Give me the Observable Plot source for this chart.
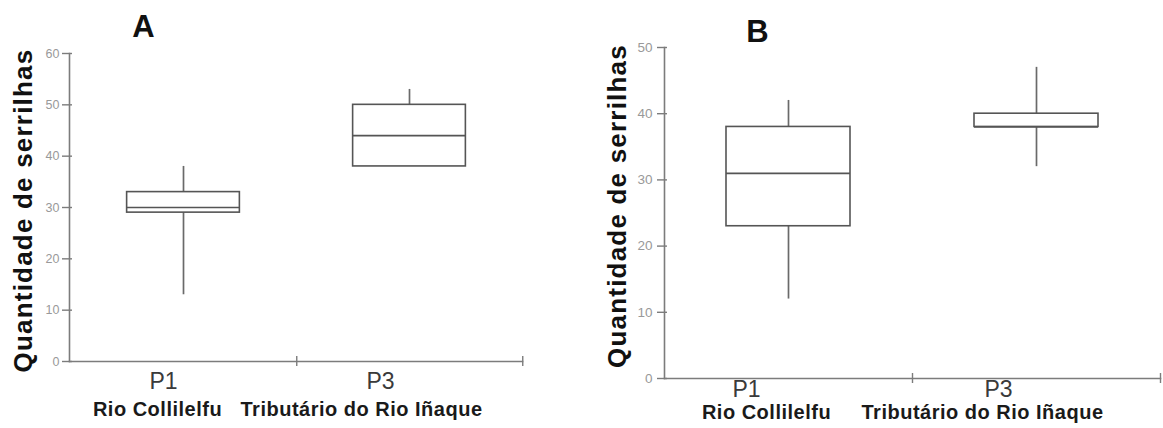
<!DOCTYPE html>
<html>
<head>
<meta charset="utf-8">
<script src="https://cdn.jsdelivr.net/npm/d3@7"></script>
<script src="https://cdn.jsdelivr.net/npm/@observablehq/plot@0.6"></script>
<style>
  body { margin: 0; background: #fff; }
  #wrap { display: flex; width: 1163px; height: 428px; }
  #wrap svg { display: block; }
</style>
</head>
<body>
<div id="wrap"></div>
<script>
// Sampling sites and their stream names
const sites = ["P1", "P3"];
const siteNames = ["Rio Collilelfu", "Tributário do Rio Iñaque"];
const yLabel = "Quantidade de serrilhas";

// Panel A: five-number summaries per site
const minA = [13, 38];
const q1A = [29, 38];
const medA = [30, 44];
const q3A = [33, 50];
const maxA = [38, 53];
const ticksA = [0, 10, 20, 30, 40, 50, 60];

// Panel B: five-number summaries per site
const minB = [12, 32];
const q1B = [23, 38];
const medB = [31, 38];
const q3B = [38, 40];
const maxB = [42, 47];
const ticksB = [0, 10, 20, 30, 40, 50];

const rowsOf = (mn, q1, md, q3, mx) =>
  sites.map((site, i) => ({site, min: mn[i], q1: q1[i], median: md[i], q3: q3[i], max: mx[i]}));

const FONT = "'Liberation Sans', Arial, Helvetica, sans-serif";
const AXIS = "#7c7c7c";
const BOX = "#555";

function panel(o) {
  const H = 428;
  const frameW = o.width - o.ml - o.mr;
  const frameH = H - o.mt - o.mb;
  const bw = frameW / sites.length;
  const inset = bw * 0.25;
  const rows = rowsOf(...o.stats);

  const siteLabels = sites.flatMap((s, i) => [
    Plot.text([s], {
      x: d => d, text: d => d, frameAnchor: "bottom",
      dx: o.codeDx[i], dy: o.codeDy, fontSize: o.codeSize, fill: "#3a3a3a"
    }),
    Plot.text([s], {
      x: d => d, text: () => siteNames[i], frameAnchor: "bottom",
      dx: o.nameDx[i], dy: o.nameDy, fontSize: o.nameSize, fontWeight: "bold", fill: "#1a1a1a"
    })
  ]);

  const svg = Plot.plot({
    width: o.width,
    height: H,
    marginLeft: o.ml,
    marginRight: o.mr,
    marginTop: o.mt,
    marginBottom: o.mb,
    style: {fontFamily: FONT, background: "white", overflow: "visible"},
    x: {type: "band", domain: sites, padding: 0, axis: null},
    y: {domain: [0, o.yMax]},
    marks: [
      // axis lines
      Plot.frame({anchor: "left", stroke: AXIS, strokeWidth: 1.6}),
      Plot.frame({anchor: "bottom", stroke: AXIS, strokeWidth: 1.6}),
      // y ticks crossing the axis line
      Plot.ruleY(o.ticks, {y: d => d, insetLeft: -o.tickLeft, insetRight: frameW - o.tickRight, stroke: AXIS, strokeWidth: 1.4}),
      Plot.axisY({ticks: o.ticks, tickSize: 0, tickPadding: o.tickPad, fontSize: o.tickSize, color: "#999"}),
      // x ticks at the category boundaries
      Plot.ruleX(sites, {x: d => d, dx: bw / 2, insetTop: frameH - 5, insetBottom: -5, stroke: AXIS, strokeWidth: 1.4}),
      // whiskers
      Plot.ruleX(rows, {x: "site", y1: "min", y2: "q1", stroke: "#6a6a6a", strokeWidth: 1.7}),
      Plot.ruleX(rows, {x: "site", y1: "q3", y2: "max", stroke: "#6a6a6a", strokeWidth: 1.7}),
      // interquartile boxes and medians
      Plot.barY(rows, {x: "site", y1: "q1", y2: "q3", fill: "white", stroke: BOX, strokeWidth: 1.6, insetLeft: inset, insetRight: inset}),
      Plot.tickY(rows, {x: "site", y: "median", stroke: BOX, strokeWidth: 1.7, insetLeft: inset, insetRight: inset}),
      // category labels
      ...siteLabels,
      // panel letter
      Plot.text([o.letter], {
        frameAnchor: "top-left", text: d => d, dx: o.titleDx, dy: o.titleDy,
        textAnchor: "middle", lineAnchor: "middle",
        fontSize: 31, fontWeight: "bold", fill: "#111"
      }),
      // y-axis title
      Plot.text([yLabel], {
        frameAnchor: "left", text: d => d, rotate: -90, dx: o.labelDx, dy: o.labelDy,
        textAnchor: "middle", lineAnchor: "middle",
        fontSize: 26, fontWeight: "bold", fill: "#111"
      })
    ]
  });

  // widen the bold titles slightly
  svg.querySelectorAll("text").forEach(t => {
    if (t.textContent === yLabel) t.style.letterSpacing = "1.2px";
    else if (siteNames.includes(t.textContent)) t.style.letterSpacing = "0.5px";
  });
  return svg;
}

const wrap = document.getElementById("wrap");

const plotA = panel({
  letter: "A",
  stats: [minA, q1A, medA, q3A, maxA],
  ticks: ticksA, yMax: 60,
  width: 560, ml: 69, mr: 38, mt: 53, mb: 67,
  tickLeft: 7, tickRight: 3, tickPad: 10, tickSize: 12.5,
  codeDx: [-20, -29], codeDy: 27, codeSize: 23,
  nameDx: [-26, -48], nameDy: 54, nameSize: 20,
  titleDx: 74, titleDy: -26,
  labelDx: -46, labelDy: 3
});

const plotB = panel({
  letter: "B",
  stats: [minB, q1B, medB, q3B, maxB],
  ticks: ticksB, yMax: 50,
  width: 583, ml: 84, mr: 3, mt: 47, mb: 50,
  tickLeft: 7, tickRight: 3, tickPad: 12, tickSize: 13.5,
  codeDx: [-42, -38], codeDy: 18, codeSize: 23,
  nameDx: [-22, -54], nameDy: 40, nameSize: 20,
  titleDx: 93, titleDy: -15,
  labelDx: -47, labelDy: -7
});
plotB.style.marginLeft = "20px";

wrap.append(plotA, plotB);
</script>
</body>
</html>
